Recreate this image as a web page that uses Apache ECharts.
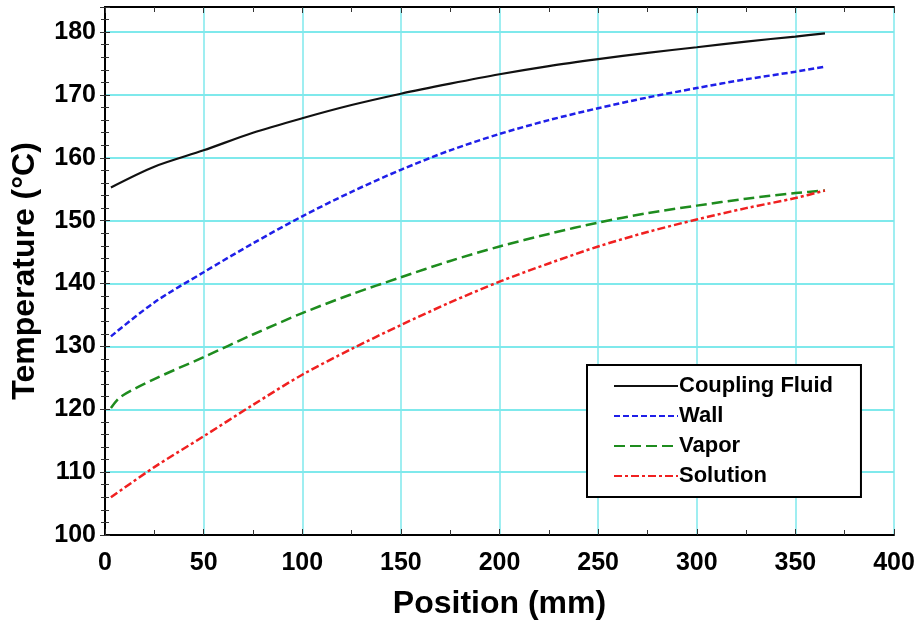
<!DOCTYPE html>
<html>
<head>
<meta charset="utf-8">
<script src="https://cdn.jsdelivr.net/npm/echarts@6/dist/echarts.min.js"></script>
<style>
  html, body { margin: 0; padding: 0; background: #fff; }
  #myChart { width: 919px; height: 620px; }
</style>
</head>
<body>
<div id="myChart"></div>
<script>
// position along the exchanger (mm)
const position = [3, 25, 50, 75, 100, 125, 150, 175, 200, 225, 250, 275, 300, 325, 350, 365];
const vaporPosition = [3, 8, 25, 50, 75, 100, 125, 150, 175, 200, 225, 250, 275, 300, 325, 350, 365];

// temperatures (°C)
const couplingFluid = [155.3, 158.6, 161.2, 164.0, 166.3, 168.4, 170.2, 171.8, 173.3, 174.6, 175.7, 176.7, 177.6, 178.5, 179.3, 179.8];
const wall = [131.6, 137.0, 141.8, 146.4, 150.7, 154.6, 158.1, 161.2, 163.8, 166.0, 167.9, 169.6, 171.1, 172.5, 173.7, 174.5];
const vapor = [120.2, 122.0, 124.8, 128.3, 131.9, 135.3, 138.3, 141.0, 143.6, 145.9, 147.9, 149.7, 151.2, 152.4, 153.5, 154.4, 154.8];
const solution = [106.0, 110.8, 115.7, 120.7, 125.5, 129.6, 133.4, 137.0, 140.3, 143.2, 145.9, 148.2, 150.2, 152.0, 153.6, 154.8];

const seriesNames = ['Coupling Fluid', 'Wall', 'Vapor', 'Solution'];

function pairs(xs, ys) {
    return xs.map(function (x, i) { return [x, ys[i]]; });
}

const font = 'Liberation Sans, Arial, sans-serif';
const gridColor = '#7fe9ec';

let myChart = echarts.init(document.getElementById('myChart'));

const baseX = {
    type: 'value', min: 0, max: 400, interval: 50,
    axisLine: { lineStyle: { color: '#000', width: 2 } },
    axisTick: { inside: true, length: 6, lineStyle: { color: '#333' } },
    minorTick: { show: true, splitNumber: 2, length: 5, lineStyle: { color: '#333' } }
};
const baseY = {
    type: 'value', min: 100, max: 184, interval: 10,
    axisLine: { lineStyle: { color: '#000', width: 2 } },
    axisTick: { inside: true, length: 5, lineStyle: { color: '#333' } },
    minorTick: { show: true, splitNumber: 5, length: 4, lineStyle: { color: '#333' } }
};

myChart.setOption({
    animation: false,
    backgroundColor: '#fff',
    grid: { left: 105, right: 25, top: 7, bottom: 85, containLabel: false, outerBoundsMode: 'none' },
    legend: {
        orient: 'vertical',
        left: 587, top: 365,
        data: seriesNames,
        itemWidth: 64, itemHeight: 14, itemGap: 8,
        padding: [10, 28, 10, 26],
        borderColor: '#000', borderWidth: 2,
        backgroundColor: '#fff',
        itemStyle: { opacity: 0 },
        textStyle: { fontFamily: font, fontWeight: 'bold', fontSize: 22, color: '#000', padding: [0, 0, 0, -4] }
    },
    xAxis: [
        Object.assign({}, baseX, {
            position: 'bottom',
            name: 'Position (mm)', nameLocation: 'middle', nameGap: 53,
            nameTextStyle: { fontFamily: font, fontWeight: 'bold', fontSize: 32, color: '#000' },
            axisLabel: { margin: 16, fontFamily: font, fontWeight: 'bold', fontSize: 25, color: '#000' },
            splitLine: { show: true, lineStyle: { color: gridColor, width: 1.5 } }
        }),
        Object.assign({}, baseX, {
            position: 'top',
            axisLabel: { show: false },
            splitLine: { show: false }
        })
    ],
    yAxis: [
        Object.assign({}, baseY, {
            position: 'left',
            name: 'Temperature (°C)', nameLocation: 'middle', nameGap: 64,
            nameTextStyle: { fontFamily: font, fontWeight: 'bold', fontSize: 32, color: '#000' },
            axisLabel: {
                margin: 9, fontFamily: font, fontWeight: 'bold', fontSize: 25, color: '#000',
                showMaxLabel: false
            },
            splitLine: { show: true, lineStyle: { color: gridColor, width: 2 } }
        }),
        Object.assign({}, baseY, {
            position: 'right',
            axisLabel: { show: false },
            splitLine: { show: false }
        })
    ],
    series: [
        {
            name: 'Coupling Fluid', type: 'line', symbol: 'none', smooth: 0.3,
            data: pairs(position, couplingFluid),
            itemStyle: { color: '#111' },
            lineStyle: { color: '#111', width: 2.2, type: 'solid' }
        },
        {
            name: 'Wall', type: 'line', symbol: 'none', smooth: 0.3,
            data: pairs(position, wall),
            itemStyle: { color: '#1f1fe8' },
            lineStyle: { color: '#1f1fe8', width: 2.5, type: [6, 3] }
        },
        {
            name: 'Vapor', type: 'line', symbol: 'none', smooth: 0.3,
            data: pairs(vaporPosition, vapor),
            itemStyle: { color: '#1e8c1e' },
            lineStyle: { color: '#1e8c1e', width: 2.5, type: [11, 5] }
        },
        {
            name: 'Solution', type: 'line', symbol: 'none', smooth: 0.3,
            data: pairs(position, solution),
            itemStyle: { color: '#f02020' },
            lineStyle: { color: '#f02020', width: 2.5, type: [8, 3, 3, 3] }
        }
    ]
});
</script>
</body>
</html>
